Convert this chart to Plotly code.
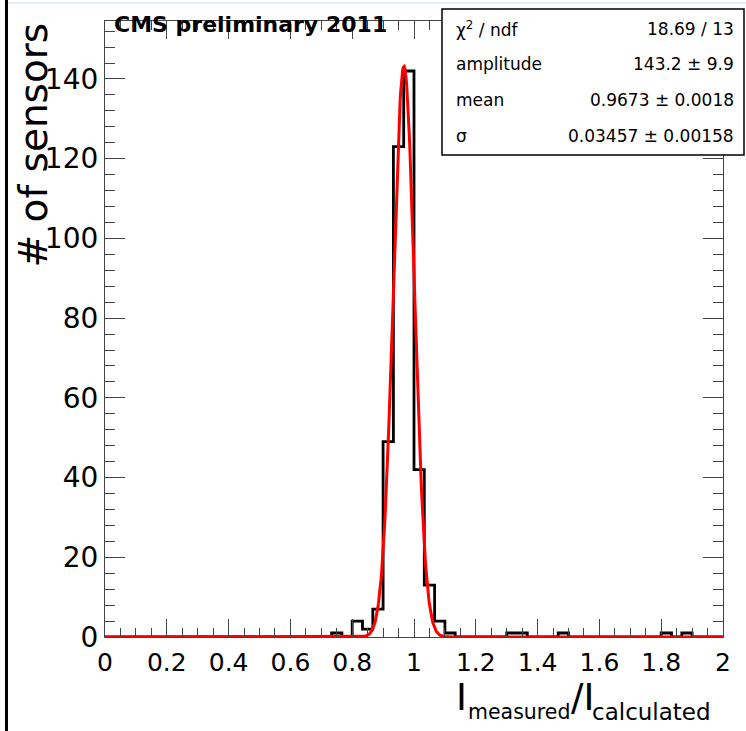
import numpy as np
import plotly.graph_objects as go

# ---- data ----
x_min, x_max, n_bins = 0.0, 2.0, 60
counts = [0]*22 + [1, 0, 4, 2, 7, 49, 123, 142, 42, 13, 4, 1,
                   0, 0, 0, 0, 0, 1, 1, 0, 0, 0, 1,
                   0, 0, 0, 0, 0, 0, 0, 0, 0, 1, 0, 1, 0, 0, 0]
fit_amplitude = 143.2
fit_mean = 0.9673
fit_sigma = 0.03457
stat_labels = ["χ<sup>2</sup> / ndf", "amplitude", "mean", "σ"]
stat_values = ["18.69 / 13", "143.2 ± 9.9", "0.9673 ± 0.0018", "0.03457 ± 0.00158"]
x_ticks = [0, 0.2, 0.4, 0.6, 0.8, 1, 1.2, 1.4, 1.6, 1.8, 2]
x_ticktext = ["0", "0.2", "0.4", "0.6", "0.8", "1", "1.2", "1.4", "1.6", "1.8", "2"]
y_ticks = [0, 20, 40, 60, 80, 100, 120, 140]

edges = np.linspace(x_min, x_max, n_bins + 1)
hx = [x_min] + list(edges)
hy = [0] + list(counts) + [counts[-1]]

fx = np.linspace(x_min, x_max, 1201)
fy = fit_amplitude * np.exp(-0.5 * ((fx - fit_mean) / fit_sigma) ** 2)

W, H = 746, 731
L, R, T, B = 105, 723, 21, 637


def px(xp):
    return (xp - L) / (R - L)


def py(yp):
    return (B - yp) / (B - T)


fig = go.Figure()
fig.add_trace(go.Scatter(x=hx, y=hy, mode="lines", line=dict(color="black", width=2.8, shape="hv"),
                         showlegend=False, hoverinfo="skip"))
fig.add_trace(go.Scatter(x=fx, y=fy, mode="lines", line=dict(color="#ff0000", width=3),
                         showlegend=False, hoverinfo="skip"))

tickfont = "DejaVu Sans"
fig.update_layout(
    width=W, height=H,
    margin=dict(l=L, r=W - R, t=T, b=H - B, pad=0),
    paper_bgcolor="white", plot_bgcolor="white",
    xaxis=dict(range=[x_min, x_max], tickvals=x_ticks, ticktext=x_ticktext,
               ticks="inside", ticklen=18, tickwidth=1.2, tickcolor="#444",
               minor=dict(ticks="inside", dtick=0.05, tick0=0, ticklen=9, tickwidth=1.2, tickcolor="#444"),
               showline=True, linecolor="#444", linewidth=1.2, mirror="ticks",
               showgrid=False, zeroline=False, ticklabelstandoff=3,
               tickfont=dict(family=tickfont, size=25, color="black")),
    yaxis=dict(range=[0, (B - T) / 3.986], tickvals=y_ticks,
               ticks="inside", ticklen=20, tickwidth=1.2, tickcolor="#444",
               minor=dict(ticks="inside", dtick=4, tick0=0, ticklen=10, tickwidth=1.2, tickcolor="#444"),
               showline=True, linecolor="#444", linewidth=1.2, mirror="ticks",
               showgrid=False, zeroline=False,
               tickfont=dict(family=tickfont, size=28, color="black")),
)

shapes = [
    dict(type="line", xref="paper", yref="paper", x0=px(6.5), x1=px(6.5), y0=py(0), y1=py(731),
         line=dict(color="black", width=3)),
    dict(type="line", xref="paper", yref="paper", x0=px(8), x1=px(746), y0=py(3), y1=py(3),
         line=dict(color="#e6edf4", width=2)),
    dict(type="rect", xref="paper", yref="paper", x0=px(442), x1=px(744), y0=py(9), y1=py(155),
         fillcolor="white", line=dict(color="black", width=1.5), layer="above"),
]
fig.update_layout(shapes=shapes)

ann = []
ann.append(dict(text="<b>CMS preliminary 2011</b>", x=px(112), y=py(25), xanchor="left", yanchor="middle",
                font=dict(family="DejaVu Sans", size=22, color="black")))
ann.append(dict(text="# of sensors", x=px(33), y=py(21), xanchor="center", yanchor="top", textangle=-90,
                font=dict(family="DejaVu Sans", size=39, color="black")))
rows_y = [29, 64, 100, 136]
for lab, val, yy in zip(stat_labels, stat_values, rows_y):
    ann.append(dict(text=lab, x=px(454), y=py(yy), xanchor="left", yanchor="middle",
                    font=dict(family="DejaVu Sans", size=17, color="black")))
    ann.append(dict(text=val, x=px(736), y=py(yy), xanchor="right", yanchor="middle",
                    font=dict(family="DejaVu Sans", size=17, color="black")))
# x axis title pieces
ann.append(dict(text="I", x=px(454), y=py(697), xanchor="left", yanchor="middle",
                font=dict(family="DejaVu Sans", size=37, color="black")))
ann.append(dict(text="measured", x=px(466), y=py(712), xanchor="left", yanchor="middle",
                font=dict(family="DejaVu Sans", size=20.5, color="black")))
ann.append(dict(text="/I", x=px(569), y=py(697), xanchor="left", yanchor="middle",
                font=dict(family="DejaVu Sans", size=37, color="black")))
ann.append(dict(text="calculated", x=px(590), y=py(712), xanchor="left", yanchor="middle",
                font=dict(family="DejaVu Sans", size=23, color="black")))
for a in ann:
    a.update(xref="paper", yref="paper", showarrow=False)
fig.update_layout(annotations=ann)

fig.write_html("out.html", config={"displayModeBar": False},
               post_script="document.body.style.margin='0';")
